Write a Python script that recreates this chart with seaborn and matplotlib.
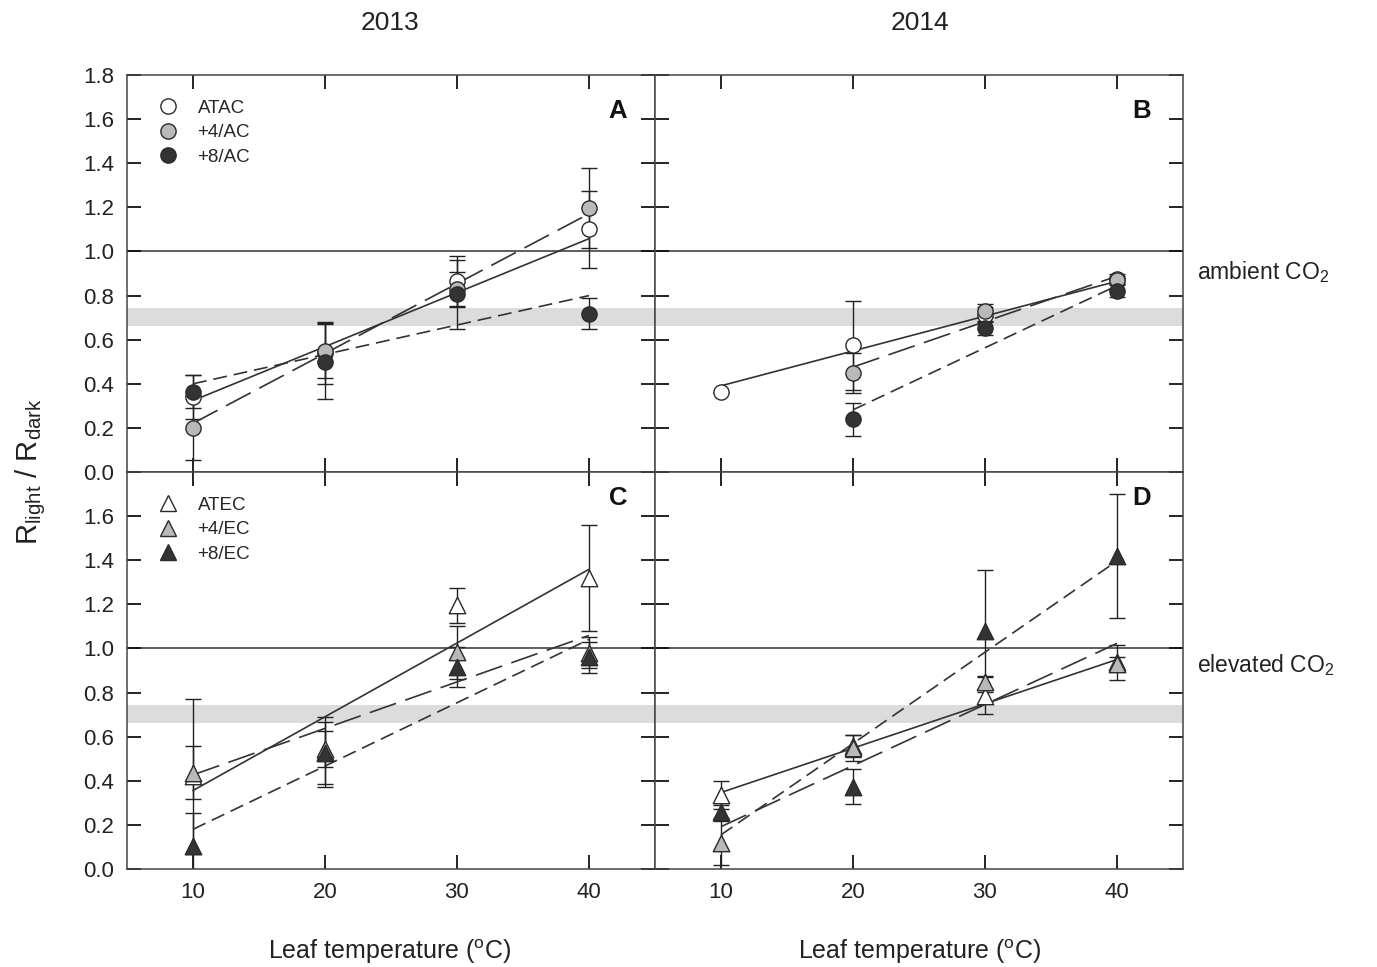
import numpy as np
import matplotlib
matplotlib.use("Agg")
import matplotlib.pyplot as plt
from matplotlib.lines import Line2D
import seaborn as sns

# Leaf temperatures (x positions)
TEMPS = [10, 20, 30, 40]
nan = np.nan

# ---- 2013, ambient CO2 (panel A) ----
A_ATAC = [0.34, 0.54, 0.865, 1.10]
A_ATAC_SE = [0.10, 0.14, 0.115, 0.175]
A_P4 = [0.20, 0.55, 0.83, 1.198]
A_P4_SE = [0.146, 0.125, 0.075, 0.18]
A_P8 = [0.365, 0.50, 0.805, 0.717]
A_P8_SE = [0.075, 0.17, 0.155, 0.07]
A_FIT_X = [[10, 40], [10, 40], [10, 40]]
A_FIT_Y = [[0.324, 1.058], [0.221, 1.171], [0.40, 0.80]]

# ---- 2014, ambient CO2 (panel B) ----
B_ATAC = [0.365, 0.574, 0.714, 0.876]
B_ATAC_SE = [0.0, 0.203, 0.035, 0.02]
B_P4 = [nan, 0.449, 0.732, 0.87]
B_P4_SE = [nan, 0.09, 0.03, 0.02]
B_P8 = [nan, 0.24, 0.653, 0.823]
B_P8_SE = [nan, 0.075, 0.03, 0.03]
B_FIT_X = [[10, 40], [20, 40], [20, 40]]
B_FIT_Y = [[0.391, 0.865], [0.476, 0.888], [0.282, 0.845]]

# ---- 2013, elevated CO2 (panel C) ----
C_ATEC = [0.42, 0.53, 1.195, 1.32]
C_ATEC_SE = [0.35, 0.16, 0.08, 0.24]
C_P4 = [0.437, 0.544, 0.983, 0.98]
C_P4_SE = [0.12, 0.08, 0.12, 0.07]
C_P8 = [0.105, 0.526, 0.915, 0.96]
C_P8_SE = [0.15, 0.14, 0.09, 0.07]
C_FIT_X = [[10, 40], [10, 40], [10, 40]]
C_FIT_Y = [[0.356, 1.359], [0.427, 1.059], [0.18, 1.041]]

# ---- 2014, elevated CO2 (panel D) ----
D_ATEC = [0.336, 0.556, 0.786, 0.938]
D_ATEC_SE = [0.064, 0.05, 0.085, 0.08]
D_P4 = [0.117, 0.55, 0.847, 0.93]
D_P4_SE = [0.10, 0.06, 0.03, 0.03]
D_P8 = [0.26, 0.374, 1.079, 1.42]
D_P8_SE = [0.03, 0.08, 0.275, 0.28]
D_FIT_X = [[10, 40], [10, 40], [10, 40]]
D_FIT_Y = [[0.347, 0.95], [0.192, 1.023], [0.155, 1.397]]

AC_LABELS = ["ATAC", "+4/AC", "+8/AC"]
EC_LABELS = ["ATEC", "+4/EC", "+8/EC"]
YEARS = ["2013", "2014"]
PANEL_LETTERS = ["A", "B", "C", "D"]
Y_TICKS = [0.0, 0.2, 0.4, 0.6, 0.8, 1.0, 1.2, 1.4, 1.6, 1.8]

# reference band of typical light/dark ratio
BAND = (0.66, 0.745)

FILLS = ["white", "#b9b9b9", "#333333"]
EDGE = "#2a2a2a"
LINE_COLOR = "#333333"
DASHES = [None, (20, 7), (10, 5)]

sns.set_theme(style="ticks")
plt.rcParams["font.family"] = ["Liberation Sans", "DejaVu Sans"]
plt.rcParams["mathtext.default"] = "regular"
plt.rcParams["lines.scale_dashes"] = False

fig, axes = plt.subplots(2, 2, figsize=(13.77, 9.67), dpi=100)
fig.subplots_adjust(left=0.0922, right=0.8591, top=0.9224, bottom=0.1013,
                    wspace=0, hspace=0)

panels = [
    (axes[0, 0], [A_ATAC, A_P4, A_P8], [A_ATAC_SE, A_P4_SE, A_P8_SE], A_FIT_X, A_FIT_Y, "o"),
    (axes[0, 1], [B_ATAC, B_P4, B_P8], [B_ATAC_SE, B_P4_SE, B_P8_SE], B_FIT_X, B_FIT_Y, "o"),
    (axes[1, 0], [C_ATEC, C_P4, C_P8], [C_ATEC_SE, C_P4_SE, C_P8_SE], C_FIT_X, C_FIT_Y, "^"),
    (axes[1, 1], [D_ATEC, D_P4, D_P8], [D_ATEC_SE, D_P4_SE, D_P8_SE], D_FIT_X, D_FIT_Y, "^"),
]

for i, (ax, means, ses, fx, fy, mk) in enumerate(panels):
    ax.axhspan(BAND[0], BAND[1], color="#dcdcdc", lw=0, zorder=0)
    ax.axhline(1.0, color="#333333", lw=1.1, zorder=0.5)

    for k in range(3):
        m = np.array(means[k], dtype=float)
        s = np.array(ses[k], dtype=float)
        ok = ~np.isnan(m)
        x = np.array(TEMPS)[ok]
        ax.errorbar(x, m[ok], yerr=s[ok], fmt="none", ecolor="#222222",
                    elinewidth=1.0, capsize=6, capthick=1.0, zorder=2)
        sns.lineplot(x=fx[k], y=fy[k], ax=ax, color=LINE_COLOR, lw=1.2,
                     zorder=2.5, legend=False)
        if DASHES[k] is not None:
            ax.lines[-1].set_dashes(DASHES[k])
        sns.scatterplot(x=x, y=m[ok], ax=ax, marker=mk,
                        s=120 if mk == "o" else 140,
                        color=FILLS[k], edgecolor=EDGE, linewidth=1.0,
                        zorder=3, legend=False)

    ax.set_xlim(5, 45)
    ax.set_ylim(0, 1.8)
    ax.set_xticks(TEMPS)
    ax.set_yticks(Y_TICKS)
    ax.set_xlabel("")
    ax.set_ylabel("")
    ax.tick_params(direction="in", top=True, right=True, length=10, width=1.3,
                   labelsize=16, pad=9, color="#111111", labelcolor="#222222")
    for sp in ax.spines.values():
        sp.set_color("#444444")
        sp.set_linewidth(1.1)

    row, col = divmod(i, 2)
    if col == 1:
        ax.tick_params(labelleft=False)
    else:
        labels = ["%.1f" % t for t in Y_TICKS]
        if row == 1:
            labels[-1] = ""
        ax.set_yticklabels(labels)
    if row == 0:
        ax.tick_params(labelbottom=False)
    else:
        ax.set_xticklabels([str(t) for t in TEMPS])

    ax.text(0.93 if col == 0 else 0.922, 0.910 if row == 0 else 0.935,
            PANEL_LETTERS[i], transform=ax.transAxes, ha="center", va="center",
            fontsize=18.5, fontweight="bold", color="#111111")

# legends for treatment groups
for ax, mk, labels in [(axes[0, 0], "o", AC_LABELS), (axes[1, 0], "^", EC_LABELS)]:
    handles = [Line2D([], [], marker=mk, linestyle="none", markersize=11 if mk == "o" else 11.5,
                      markerfacecolor=FILLS[k], markeredgecolor=EDGE,
                      markeredgewidth=1.0) for k in range(3)]
    ax.legend(handles, labels, loc="upper left", bbox_to_anchor=(0.02, 0.967),
              frameon=False, fontsize=13.5, handletextpad=0.6,
              labelspacing=0.4, borderaxespad=0.2)

# column headers and axis titles
fig.text(0.283, 0.976, YEARS[0], ha="center", va="center", fontsize=19, color="#222222")
fig.text(0.668, 0.976, YEARS[1], ha="center", va="center", fontsize=19, color="#222222")
for xc in (0.283, 0.668):
    fig.text(xc, 0.016, r"Leaf temperature ($^{o}$C)", ha="center", va="center",
             fontsize=18, color="#222222")
fig.text(0.022, 0.512, r"R$_{light}$ / R$_{dark}$", rotation=90, ha="center",
         va="center", fontsize=21, color="#222222")
fig.text(0.869, 0.719, r"ambient CO$_2$", ha="left", va="center", fontsize=16.5,
         color="#222222")
fig.text(0.869, 0.312, r"elevated CO$_2$", ha="left", va="center", fontsize=16.5,
         color="#222222")

fig.savefig("out.png", dpi=100)
